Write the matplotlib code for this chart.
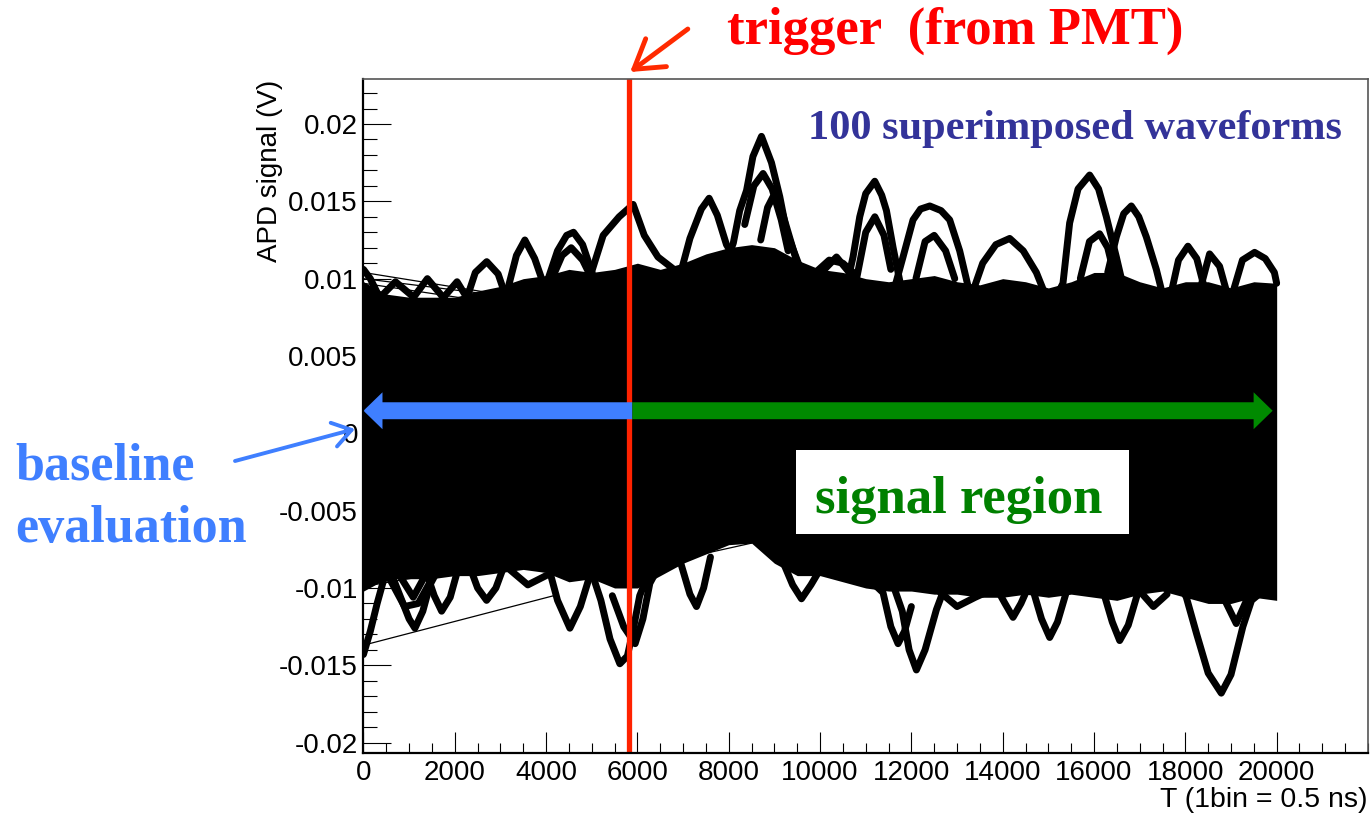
import numpy as np
import matplotlib
matplotlib.use('Agg')
import matplotlib.pyplot as plt
from matplotlib.patches import FancyArrowPatch, Rectangle
from matplotlib.ticker import MultipleLocator

plt.rcParams['font.family'] = ['Liberation Sans', 'DejaVu Sans']

# ── Waveform data: sample index (1 bin = 0.5 ns) vs APD signal (V) ─────────────
# dense band covered by most of the 100 traces, sampled every 500 bins
CORE_T = list(range(0, 20001, 500))
CORE_HI = [0.0098, 0.0090, 0.0088, 0.0088, 0.0088, 0.0092, 0.0095, 0.0100, 0.0102,
           0.0106, 0.0104, 0.0106, 0.0110, 0.0106, 0.0110, 0.0116, 0.0120, 0.0122,
           0.0120, 0.0112, 0.0106, 0.0104, 0.0100, 0.0098, 0.0100, 0.0102, 0.0098,
           0.0096, 0.0100, 0.0098, 0.0094, 0.0098, 0.0104, 0.0104, 0.0098, 0.0094,
           0.0098, 0.0098, 0.0094, 0.0098, 0.0097]
CORE_LO = [-0.0102, -0.0094, -0.0094, -0.0094, -0.0092, -0.0092, -0.0090, -0.0088,
           -0.0090, -0.0096, -0.0094, -0.0100, -0.0100, -0.0092, -0.0084, -0.0078,
           -0.0072, -0.0071, -0.0084, -0.0092, -0.0092, -0.0096, -0.0100, -0.0102,
           -0.0102, -0.0104, -0.0104, -0.0106, -0.0106, -0.0104, -0.0106, -0.0104,
           -0.0106, -0.0108, -0.0104, -0.0102, -0.0106, -0.0110, -0.0110, -0.0106,
           -0.0108]

# single traces that swing out of the band, (bin, volt)
UPPER_TRACES = [
    [(0, 0.0106), (150, 0.0100), (350, 0.0088)],
    [(300, 0.0086), (700, 0.0098), (1100, 0.0088)],
    [(1000, 0.0084), (1400, 0.0100), (1800, 0.0086)],
    [(1700, 0.0086), (2050, 0.0098), (2300, 0.0086)],
    [(2250, 0.0086), (2450, 0.0104), (2700, 0.0111), (2950, 0.0103), (3100, 0.0090)],
    [(3150, 0.0092), (3350, 0.0115), (3535, 0.0125), (3750, 0.0113), (3950, 0.0096)],
    [(4000, 0.0096), (4250, 0.0118), (4450, 0.0128), (4600, 0.0130), (4800, 0.0122),
     (5050, 0.0100)],
    [(4100, 0.0098), (4350, 0.0115), (4550, 0.0120), (4800, 0.0112), (5000, 0.0100)],
    [(4950, 0.0100), (5250, 0.0128), (5600, 0.0140), (5906, 0.0148), (6150, 0.0128),
     (6450, 0.0114), (6800, 0.0106), (7050, 0.0098)],
    [(6950, 0.0104), (7150, 0.0126), (7400, 0.0145), (7570, 0.0152), (7750, 0.0141),
     (7950, 0.0122), (8150, 0.0112)],
    [(8000, 0.0115), (8100, 0.0123), (8240, 0.0144), (8390, 0.0157), (8530, 0.0179),
     (8717, 0.0192), (8936, 0.0175), (9118, 0.0153), (9264, 0.0131), (9409, 0.0119),
     (9550, 0.0108)],
    [(8350, 0.0135), (8550, 0.0160), (8752, 0.0168), (8950, 0.0158), (9150, 0.0138),
     (9300, 0.0118)],
    [(8700, 0.0125), (8850, 0.0146), (8971, 0.0153), (9150, 0.0145), (9350, 0.0125),
     (9500, 0.0110)],
    [(9900, 0.0100), (10360, 0.0114), (10750, 0.0100)],
    [(9900, 0.0104), (10200, 0.0112), (10500, 0.0110), (10800, 0.0102)],
    [(10600, 0.0098), (10722, 0.0114), (10869, 0.0140), (11000, 0.0155), (11198, 0.0163),
     (11350, 0.0154), (11454, 0.0144), (11600, 0.0120), (11750, 0.0098)],
    [(10800, 0.0100), (11000, 0.0130), (11200, 0.0140), (11400, 0.0128), (11550, 0.0106)],
    [(11650, 0.0096), (11817, 0.0114), (12036, 0.0138), (12200, 0.0145), (12403, 0.0147),
     (12650, 0.0144), (12839, 0.0138), (13058, 0.0118), (13250, 0.0094)],
    [(12100, 0.0100), (12300, 0.0124), (12500, 0.0128), (12750, 0.0118), (12950, 0.0100)],
    [(13350, 0.0092), (13562, 0.0110), (13850, 0.0122), (14153, 0.0126), (14450, 0.0118),
     (14737, 0.0104), (14900, 0.0092)],
    [(15200, 0.0090), (15320, 0.0097), (15466, 0.0136), (15650, 0.0158), (15904, 0.0167),
     (16100, 0.0158), (16270, 0.0140), (16489, 0.0114), (16600, 0.0100)],
    [(16300, 0.0104), (16489, 0.0127), (16650, 0.0142), (16817, 0.0147), (16980, 0.0140),
     (17145, 0.0127), (17364, 0.0106), (17500, 0.0090)],
    [(15700, 0.0100), (15900, 0.0124), (16122, 0.0129), (16300, 0.0120), (16450, 0.0102)],
    [(17700, 0.0092), (17850, 0.0112), (18057, 0.0121), (18250, 0.0113), (18400, 0.0096)],
    [(18350, 0.0096), (18531, 0.0116), (18750, 0.0108), (18900, 0.0092)],
    [(19050, 0.0092), (19250, 0.0112), (19517, 0.0117), (19750, 0.0113), (19950, 0.0104),
     (20000, 0.0097)],
]
LOWER_TRACES = [
    [(0, -0.0143), (150, -0.0128), (300, -0.0110), (450, -0.0094)],
    [(500, -0.0090), (900, -0.0112), (1200, -0.0110), (1500, -0.0094)],
    [(600, -0.0090), (800, -0.0105), (1000, -0.0120), (1127, -0.0126), (1300, -0.0115),
     (1456, -0.0098), (1600, -0.0090)],
    [(750, -0.0090), (1090, -0.0106), (1350, -0.0092)],
    [(1400, -0.0092), (1550, -0.0105), (1712, -0.0115), (1900, -0.0106), (2050, -0.0090)],
    [(2350, -0.0088), (2500, -0.0100), (2697, -0.0108), (2900, -0.0100), (3050, -0.0088)],
    [(3200, -0.0088), (3600, -0.0098), (4000, -0.0092)],
    [(4050, -0.0086), (4250, -0.0108), (4521, -0.0126), (4750, -0.0112), (4958, -0.0092)],
    [(5000, -0.0090), (5200, -0.0108), (5400, -0.0133), (5615, -0.0149), (5780, -0.0144),
     (5900, -0.0128), (6050, -0.0105), (6200, -0.0094)],
    [(5450, -0.0105), (5700, -0.0125), (5950, -0.0136), (6120, -0.0120), (6272, -0.0097),
     (6400, -0.0090)],
    [(6950, -0.0084), (7150, -0.0104), (7294, -0.0112), (7450, -0.0100), (7600, -0.0080)],
    [(9200, -0.0084), (9400, -0.0098), (9593, -0.0107), (9800, -0.0098), (10000, -0.0088)],
    [(11200, -0.0098), (11379, -0.0103), (11550, -0.0125), (11708, -0.0136),
     (11850, -0.0128), (12000, -0.0112)],
    [(11600, -0.0098), (11800, -0.0115), (11950, -0.0140), (12110, -0.0153),
     (12300, -0.0140), (12548, -0.0114), (12700, -0.0102)],
    [(12600, -0.0102), (13000, -0.0112), (13400, -0.0106), (13700, -0.0102)],
    [(13900, -0.0102), (14050, -0.0110), (14226, -0.0119), (14400, -0.0110), (14550, -0.0100)],
    [(14650, -0.0100), (14850, -0.0120), (15029, -0.0132), (15200, -0.0122), (15400, -0.0102)],
    [(16200, -0.0102), (16400, -0.0122), (16562, -0.0134), (16750, -0.0124), (16950, -0.0104)],
    [(17000, -0.0102), (17300, -0.0112), (17600, -0.0104)],
    [(17950, -0.0102), (18021, -0.0106), (18250, -0.0130), (18500, -0.0155), (18787, -0.0168),
     (19000, -0.0156), (19260, -0.0125), (19450, -0.0108), (19698, -0.0102)],
    [(18800, -0.0104), (19115, -0.0123), (19400, -0.0104)],
]
# straight segments joining the end of one record to the start of the next
CONNECTORS = [
    [(0, 0.0104), (4000, 0.0085)],
    [(0, 0.0100), (3000, 0.0089)],
    [(0, 0.0097), (2500, 0.0086)],
    [(0, -0.0137), (4230, -0.01045)],
    [(0, -0.0099), (3800, -0.0080)],
    [(0, -0.0090), (3300, -0.0078)],
    [(5600, -0.0090), (8500, -0.0071)],
]

TRIGGER_BIN = 5825
ARROW_Y = 0.00146
SIGNAL_END = 19912

XTICKS = list(range(0, 20001, 2000))
YTICKS = [-0.02, -0.015, -0.01, -0.005, 0, 0.005, 0.01, 0.015, 0.02]
YTICK_LABELS = ['-0.02', '-0.015', '-0.01', '-0.005', '0', '0.005', '0.01', '0.015', '0.02']

BLUE = '#3f7fff'
GREEN = '#008a00'
RED = '#ff2200'
SERIF = 'Liberation Serif'

# ── Figure ────────────────────────────────────────────────────────────────────
fig = plt.figure(figsize=(13.71, 8.14), dpi=100)
ax = fig.add_axes([0.2651, 0.0753, 0.7327, 0.8273])
ax.set_xlim(0, 22000)
ax.set_ylim(-0.02065, 0.02289)

ax.fill_between(CORE_T, CORE_LO, CORE_HI, color='black', lw=0, zorder=2)
for tr in UPPER_TRACES + LOWER_TRACES:
    xs, ys = zip(*tr)
    ax.plot(xs, ys, color='black', lw=5, solid_joinstyle='round',
            solid_capstyle='round', zorder=2)
for seg in CONNECTORS:
    xs, ys = zip(*seg)
    ax.plot(xs, ys, color='black', lw=0.9, zorder=2)

# trigger marker
ax.axvline(TRIGGER_BIN, color=RED, lw=3.8, zorder=3)

# baseline / signal windows
ax.add_patch(FancyArrowPatch((TRIGGER_BIN + 65, ARROW_Y), (0, ARROW_Y),
                             arrowstyle='simple,head_length=1.37,head_width=2.66,tail_width=1.22',
                             mutation_scale=10, color=BLUE, lw=0, shrinkA=0, shrinkB=0,
                             zorder=4))
ax.add_patch(FancyArrowPatch((TRIGGER_BIN + 65, ARROW_Y), (SIGNAL_END, ARROW_Y),
                             arrowstyle='simple,head_length=1.37,head_width=2.66,tail_width=1.22',
                             mutation_scale=10, color=GREEN, lw=0, shrinkA=0, shrinkB=0,
                             zorder=4))

ax.add_patch(Rectangle((9468, -0.00651), 16758 - 9468, 0.00543,
                       facecolor='white', edgecolor='none', zorder=5))
ax.text(9884, -0.00513, 'signal region', color='#008000', fontsize=38,
        fontweight='bold', family=SERIF, va='baseline', ha='left', zorder=6)

ax.text(9730, 0.01903, '100 superimposed waveforms', color='#333399', fontsize=30.5,
        fontweight='bold', family=SERIF, va='baseline', ha='left', zorder=6)

ax.text(7958, 0.02517, 'trigger  (from PMT)', color='#ff0000', fontsize=38,
        fontweight='bold', family=SERIF, va='baseline', ha='left', clip_on=False)
ax.annotate('', xy=(5840, 0.02336), xytext=(7104, 0.02614),
            arrowprops=dict(arrowstyle='->,head_length=0.8,head_width=0.5', lw=3.5,
                            color='#ff2a00', shrinkA=0, shrinkB=0, mutation_scale=25),
            annotation_clip=False)

fig.text(15 / 1371, 1 - 480 / 814, 'baseline', color=BLUE, fontsize=37.5,
         fontweight='bold', family=SERIF, va='baseline', ha='left')
fig.text(15 / 1371, 1 - 541.7 / 814, 'evaluation', color=BLUE, fontsize=37.5,
         fontweight='bold', family=SERIF, va='baseline', ha='left')
ax.annotate('', xy=(-186, 0.00028), xytext=(-2813, -0.00179),
            arrowprops=dict(arrowstyle='->,head_length=0.6,head_width=0.4', lw=2.8,
                            color=BLUE, shrinkA=0, shrinkB=0, mutation_scale=22),
            annotation_clip=False, zorder=6)

# ── Axes styling (ROOT look) ──────────────────────────────────────────────────
ax.set_xticks(XTICKS)
ax.xaxis.set_minor_locator(MultipleLocator(500))
ax.set_yticks(YTICKS)
ax.set_yticklabels(YTICK_LABELS)
ax.yaxis.set_minor_locator(MultipleLocator(0.001))
ax.tick_params(axis='x', which='major', direction='in', length=15, width=0.8,
               labelsize=20, pad=5)
ax.tick_params(axis='x', which='minor', direction='in', length=7, width=0.8)
ax.tick_params(axis='y', which='major', direction='in', length=20, width=0.8,
               labelsize=20, pad=4)
ax.tick_params(axis='y', which='minor', direction='in', length=10, width=0.8)

for side in ('left', 'bottom'):
    ax.spines[side].set_linewidth(1.6)
    ax.spines[side].set_color('black')
for side in ('top', 'right'):
    ax.spines[side].set_linewidth(1.2)
    ax.spines[side].set_color('#555555')
for side in ('left', 'bottom', 'top', 'right'):
    ax.spines[side].set_zorder(7)

ax.set_xlabel('T (1bin = 0.5 ns)', fontsize=20.5, loc='right', va='baseline')
ax.xaxis.set_label_coords(1.0, -0.0802)
ax.set_ylabel('APD signal (V)', fontsize=20, loc='top')
ax.yaxis.set_label_coords(-0.080, 1.0)

fig.savefig('out.png', dpi=100)
